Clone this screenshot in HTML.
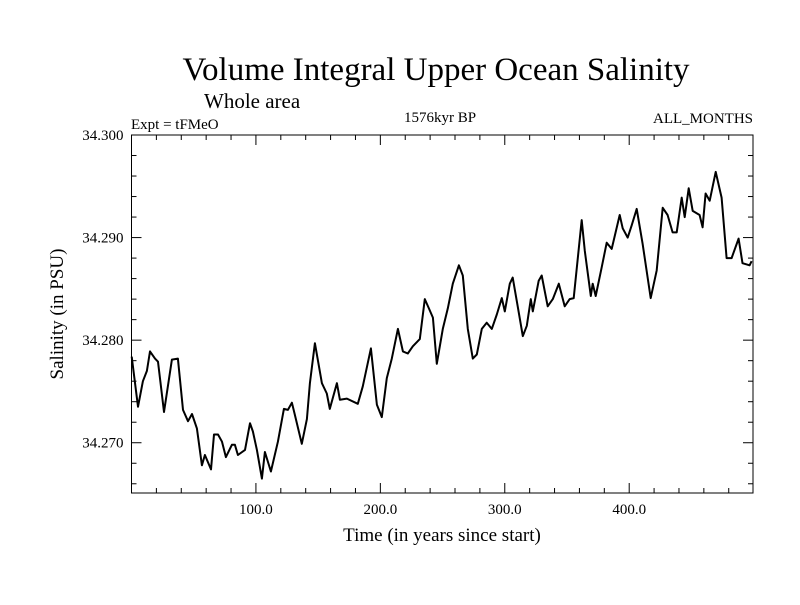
<!DOCTYPE html>
<html><head><meta charset="utf-8"><style>
body{margin:0;background:#fff}
svg text{font-family:"Liberation Serif",serif;fill:#000}
</style></head><body>
<svg id="chart" width="800" height="600" xmlns="http://www.w3.org/2000/svg">
<rect width="800" height="600" fill="#fff"/>
<text x="436" y="80" font-size="33" text-anchor="middle">Volume Integral Upper Ocean Salinity</text>
<text x="204" y="108" font-size="21">Whole area</text>
<text x="131" y="129" font-size="15">Expt = tFMeO</text>
<text x="440" y="122" font-size="15" text-anchor="middle">1576kyr BP</text>
<text x="753" y="123" font-size="15" text-anchor="end">ALL_MONTHS</text>
<text transform="translate(63,314) rotate(-90)" font-size="19" text-anchor="middle">Salinity (in PSU)</text>
<text x="442" y="541" font-size="19" text-anchor="middle">Time (in years since start)</text>
<g id="axes"></g>
<path id="line" fill="none" stroke="#000" stroke-width="2" stroke-linejoin="round"/>
<rect x="131.5" y="135" width="621.5" height="358" fill="none" stroke="#000" stroke-width="1"/>
</svg>
<script>
const years=[0.2,5.2,9.2,12.4,14.9,18.9,21.3,26.1,32.5,37.3,41.4,45.4,48.6,52.6,56.6,59.0,63.9,66.3,69.5,72.7,75.9,80.7,83.1,85.5,91.2,95.2,97.6,100.8,104.8,107.2,112.0,117.7,122.5,125.7,128.9,131.3,136.9,141.0,143.4,147.4,153.0,157.0,159.4,165.1,167.5,173.1,181.9,185.9,192.4,197.2,201.2,205.2,209.2,214.1,218.1,222.1,226.1,231.7,235.7,239.0,242.2,245.4,250.2,254.2,258.2,263.1,266.3,270.3,274.3,277.5,281.5,285.5,289.6,293.6,297.6,300.0,304.0,306.4,310.4,314.5,317.7,320.9,322.5,327.3,329.7,334.5,338.6,343.4,348.2,352.2,355.4,361.8,364.3,369.1,370.7,373.1,377.9,381.9,385.9,392.4,394.8,398.8,402.0,406.0,410.8,417.3,422.1,426.9,430.9,434.9,438.2,442.2,444.6,447.8,451.0,456.6,459.0,461.4,464.7,469.5,474.3,478.3,482.3,487.9,491.1,496.8,498.4];
const salinity=[34.2784,34.2735,34.2760,34.2770,34.2789,34.2782,34.2779,34.2730,34.2781,34.2782,34.2732,34.2721,34.2728,34.2714,34.2678,34.2688,34.2674,34.2708,34.2708,34.2701,34.2686,34.2698,34.2698,34.2688,34.2693,34.2719,34.2711,34.2693,34.2665,34.2691,34.2672,34.2701,34.2733,34.2732,34.2739,34.2727,34.2699,34.2723,34.2758,34.2797,34.2758,34.2748,34.2733,34.2758,34.2742,34.2743,34.2738,34.2755,34.2792,34.2737,34.2725,34.2763,34.2782,34.2811,34.2789,34.2787,34.2794,34.2801,34.2840,34.2831,34.2822,34.2777,34.2811,34.2831,34.2855,34.2873,34.2863,34.2811,34.2782,34.2786,34.2811,34.2817,34.2811,34.2825,34.2841,34.2828,34.2855,34.2861,34.2833,34.2804,34.2814,34.2840,34.2828,34.2858,34.2863,34.2833,34.2840,34.2855,34.2833,34.2840,34.2841,34.2917,34.2887,34.2843,34.2855,34.2843,34.2871,34.2895,34.2889,34.2922,34.2909,34.2900,34.2912,34.2928,34.2894,34.2841,34.2868,34.2929,34.2922,34.2905,34.2905,34.2939,34.2920,34.2948,34.2926,34.2922,34.2910,34.2943,34.2936,34.2964,34.2939,34.2880,34.2880,34.2899,34.2875,34.2873,34.2877];
const xTicks=[100,200,300,400];
const xTickLabels=["100.0","200.0","300.0","400.0"];
const yTicks=[34.27,34.28,34.29,34.30];
const yTickLabels=["34.270","34.280","34.290","34.300"];
const X0=131.5,X1=753,Y0=493,Y1=135,xMin=0,xMax=499.5,yMin=34.2651,yMax=34.300;
const sx=v=>X0+(v-xMin)/(xMax-xMin)*(X1-X0);
const sy=v=>Y0-(v-yMin)/(yMax-yMin)*(Y0-Y1);
const NS="http://www.w3.org/2000/svg";
const g=document.getElementById('axes');
function ln(x1,y1,x2,y2,name){const l=document.createElementNS(NS,'line');
l.setAttribute('x1',x1);l.setAttribute('y1',y1);l.setAttribute('x2',x2);l.setAttribute('y2',y2);
l.setAttribute('stroke','#000');l.setAttribute('stroke-width','1');


g.appendChild(l);}
for(let v=20;v<xMax;v+=20){const x=sx(v);const major=v%100===0;const L=major?10:5;
ln(x,Y0,x,Y0-L,'x-tick');ln(x,Y1,x,Y1+L,'x-tick-top');}
for(let v=34.266;v<=34.3001;v+=0.002){const y=sy(v);const major=Math.abs(Math.round(v*100)-v*100)<1e-6;const L=major?10:5;
ln(X0,y,X0+L,y,'y-tick');ln(X1,y,X1-L,y,'y-tick-right');}
xTicks.forEach((v,i)=>{const t=document.createElementNS(NS,'text');
t.setAttribute('x',sx(v));t.setAttribute('y',Y0+21);t.setAttribute('font-size','15');t.setAttribute('text-anchor','middle');
t.textContent=xTickLabels[i];


g.appendChild(t);});
yTicks.forEach((v,i)=>{const t=document.createElementNS(NS,'text');
t.setAttribute('x',X0-8);t.setAttribute('y',sy(v)+5);t.setAttribute('font-size','15');t.setAttribute('text-anchor','end');
t.textContent=yTickLabels[i];


g.appendChild(t);});
document.getElementById('line').setAttribute('d',years.map((y,i)=>(i?'L':'M')+sx(y).toFixed(1)+','+sy(salinity[i]).toFixed(1)).join(''));
</script>
</body></html>
